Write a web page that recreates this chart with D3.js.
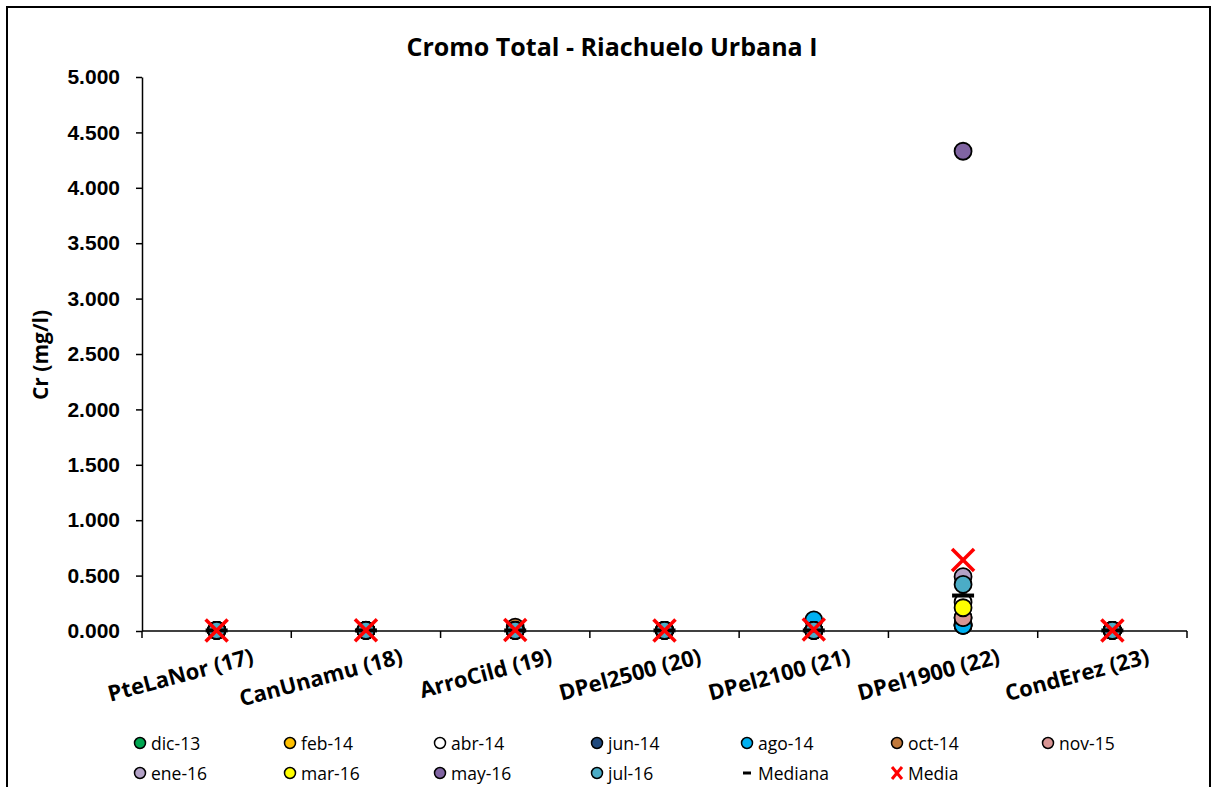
<!DOCTYPE html>
<html>
<head>
<meta charset="utf-8">
<script src="https://cdn.jsdelivr.net/npm/d3@7"></script>
<style>
  html, body { margin: 0; padding: 0; background: #fff; }
  svg { display: block; }
</style>
</head>
<body>
<svg id="chart" width="1213" height="787"></svg>
<script>
// Sampling stations (x categories)
const stations = ["PteLaNor (17)", "CanUnamu (18)", "ArroCild (19)", "DPel2500 (20)", "DPel2100 (21)", "DPel1900 (22)", "CondErez (23)"];

// Campaigns (one series each)
const campaigns = ["dic-13", "feb-14", "abr-14", "jun-14", "ago-14", "oct-14", "nov-15", "ene-16", "mar-16", "may-16", "jul-16"];
const campaignColors = ["#00A651", "#FFC000", "#FFFFFF", "#1F497D", "#00B0F0", "#C0783A", "#D99594", "#B3A2C7", "#FFFF00", "#8064A2", "#4BACC6"];

// Total chromium (mg/l), one array per campaign, in station order
const dic13 = [0.005, 0.005, 0.005, 0.005, 0.005, 0.05, 0.005];
const feb14 = [0.005, 0.005, 0.005, 0.005, 0.005, 0.05, 0.005];
const abr14 = [0.005, 0.005, 0.005, 0.005, 0.005, 0.26, 0.005];
const jun14 = [0.005, 0.008, 0.005, 0.005, 0.005, 0.06, 0.005];
const ago14 = [0.005, 0.005, 0.005, 0.005, 0.10, 0.05, 0.005];
const oct14 = [0.005, 0.005, 0.035, 0.005, 0.005, 0.12, 0.005];
const nov15 = [0.005, 0.005, 0.005, 0.005, 0.005, 0.12, 0.005];
const ene16 = [0.005, 0.005, 0.005, 0.005, 0.005, 0.49, 0.005];
const mar16 = [0.005, 0.005, 0.005, 0.005, 0.005, 0.21, 0.005];
const may16 = [0.005, 0.005, 0.005, 0.005, 0.005, 4.33, 0.005];
const jul16 = [0.006, 0.005, 0.006, 0.005, 0.005, 0.42, 0.005];
const seriesValues = [dic13, feb14, abr14, jun14, ago14, oct14, nov15, ene16, mar16, may16, jul16];

// Summary statistics per station
const mediana = [0.005, 0.005, 0.005, 0.005, 0.005, 0.32, 0.005];
const media = [0.005, 0.006, 0.009, 0.005, 0.013, 0.64, 0.005];

// Y axis tick labels
const yTicks = [0, 0.5, 1, 1.5, 2, 2.5, 3, 3.5, 4, 4.5, 5];
const yTickLabels = ["0.000", "0.500", "1.000", "1.500", "2.000", "2.500", "3.000", "3.500", "4.000", "4.500", "5.000"];

const title = "Cromo Total - Riachuelo Urbana I";
const yTitle = "Cr (mg/l)";

const svg = d3.select("#chart");
const sansCal = "'Open Sans', Lato, sans-serif";
const sansAr = "'Liberation Sans', Arial, sans-serif";

// Outer chart border
svg.append("rect")
  .attr("x", 7).attr("y", 7).attr("width", 1203).attr("height", 790)
  .attr("fill", "#fff").attr("stroke", "#000").attr("stroke-width", 2);

const x = d3.scaleBand().domain(stations).range([142, 1187]).padding(0);
const y = d3.scaleLinear().domain([0, 5]).range([631, 77]);

// Title
svg.append("text")
  .attr("x", 612).attr("y", 56)
  .attr("text-anchor", "middle")
  .attr("font-family", sansCal).attr("font-weight", "bold").attr("font-size", 25)
  .attr("textLength", 411).attr("lengthAdjust", "spacingAndGlyphs")
  .text(title);

// Y axis
const yAxis = d3.axisLeft(y).tickValues(yTicks)
  .tickFormat((d, i) => yTickLabels[i]).tickSize(6).tickSizeOuter(0);
const gy = svg.append("g").attr("transform", "translate(142,0)").call(yAxis);
gy.select(".domain").attr("stroke", "#000").attr("stroke-width", 1.5);
gy.selectAll(".tick line").attr("stroke", "#000").attr("stroke-width", 1.5);
gy.selectAll(".tick text")
  .attr("x", -22)
  .attr("font-family", sansAr).attr("font-weight", "bold").attr("font-size", 21).attr("fill", "#000");

// Y axis title
svg.append("text")
  .attr("transform", "translate(48,355) rotate(-90)")
  .attr("text-anchor", "middle")
  .attr("font-family", sansCal).attr("font-weight", "bold").attr("font-size", 21)
  .text(yTitle);

// X axis line and ticks at category boundaries
const xr = x.range();
svg.append("line")
  .attr("x1", xr[0]).attr("x2", xr[1]).attr("y1", y(0)).attr("y2", y(0))
  .attr("stroke", "#000").attr("stroke-width", 1.5);
const bounds = stations.map(s => x(s)).concat([xr[1]]);
svg.append("g").selectAll("line").data(bounds).join("line")
  .attr("x1", d => d).attr("x2", d => d)
  .attr("y1", y(0)).attr("y2", y(0) + 7)
  .attr("stroke", "#000").attr("stroke-width", 1.5);

// X category labels (rotated)
svg.append("g").selectAll("text").data(stations).join("text")
  .attr("transform", d => `translate(${x(d) + x.bandwidth() / 2 + 38},${y(0) + 32}) rotate(-15)`)
  .attr("text-anchor", "end")
  .attr("font-family", sansCal).attr("font-weight", "bold").attr("font-size", 22)
  .text(d => d);

// Campaign markers
const cx = s => x(s) + x.bandwidth() / 2;
seriesValues.forEach((vals, si) => {
  svg.append("g").selectAll("circle").data(vals).join("circle")
    .attr("cx", (d, i) => cx(stations[i]))
    .attr("cy", d => y(d))
    .attr("r", 8.5)
    .attr("fill", campaignColors[si])
    .attr("stroke", "#000").attr("stroke-width", 1.8);
});

// Median dashes
svg.append("g").selectAll("line").data(mediana).join("line")
  .attr("x1", (d, i) => cx(stations[i]) - 11)
  .attr("x2", (d, i) => cx(stations[i]) + 11)
  .attr("y1", d => y(d)).attr("y2", d => y(d))
  .attr("stroke", "#000").attr("stroke-width", 4);

// Mean crosses
const xh = 11;
const mg = svg.append("g").selectAll("g").data(media).join("g")
  .attr("transform", (d, i) => `translate(${cx(stations[i])},${y(d)})`);
mg.append("line").attr("x1", -xh).attr("y1", -xh).attr("x2", xh).attr("y2", xh)
  .attr("stroke", "#FF0000").attr("stroke-width", 3.5);
mg.append("line").attr("x1", -xh).attr("y1", xh).attr("x2", xh).attr("y2", -xh)
  .attr("stroke", "#FF0000").attr("stroke-width", 3.5);

// Legend
const legendItems = campaigns.map((c, i) => ({ label: c, type: "circle", color: campaignColors[i] }))
  .concat([{ label: "Mediana", type: "dash" }, { label: "Media", type: "cross" }]);
const colX = [140, 290, 440, 597, 747, 897, 1048];
const rowY = [743, 773];
const lg = svg.append("g").selectAll("g").data(legendItems).join("g")
  .attr("transform", (d, i) => `translate(${colX[i % 7]},${rowY[Math.floor(i / 7)]})`);
lg.filter(d => d.type === "circle").append("circle")
  .attr("r", 5.5).attr("fill", d => d.color).attr("stroke", "#000").attr("stroke-width", 1.5);
lg.filter(d => d.type === "dash").append("line")
  .attr("x1", -4).attr("x2", 4).attr("stroke", "#000").attr("stroke-width", 3);
lg.filter(d => d.type === "cross").each(function () {
  const g = d3.select(this);
  g.append("line").attr("x1", -5).attr("y1", -6).attr("x2", 5).attr("y2", 6).attr("stroke", "#FF0000").attr("stroke-width", 3);
  g.append("line").attr("x1", -5).attr("y1", 6).attr("x2", 5).attr("y2", -6).attr("stroke", "#FF0000").attr("stroke-width", 3);
});
lg.append("text")
  .attr("x", 11).attr("y", 6.5)
  .attr("font-family", sansCal).attr("font-size", 17.5)
  .text(d => d.label);
</script>
</body>
</html>
